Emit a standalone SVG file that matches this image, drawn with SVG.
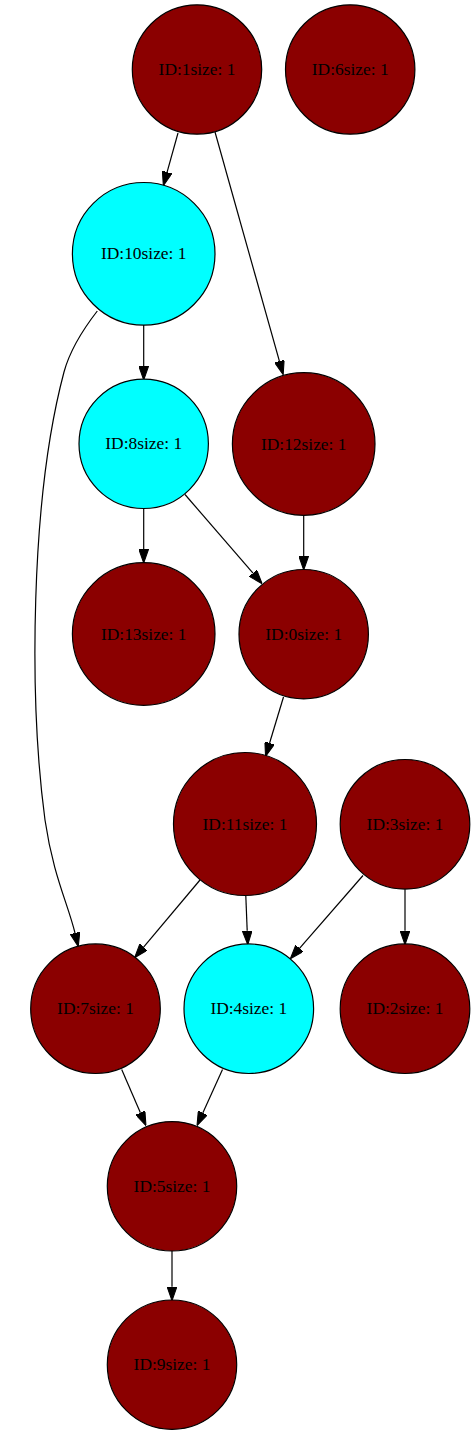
<svg xmlns="http://www.w3.org/2000/svg" width="475" height="1434" viewBox="0 0 475 1434">
<style>
.red{fill:#8b0000;stroke:#000;stroke-width:1.2}
.cyan{fill:#00ffff;stroke:#000;stroke-width:1.2}
text{font-family:"Liberation Serif","Times New Roman",serif;font-size:17.4px;text-anchor:middle;fill:#000}
.edge{fill:none;stroke:#000;stroke-width:1.2;marker-end:url(#arr)}
</style>
<defs>
<marker id="arr" markerUnits="userSpaceOnUse" markerWidth="14" markerHeight="10" viewBox="0 0 13.3 9.34" refX="0" refY="4.67" orient="auto">
<path d="M0,0 L13.3,4.67 L0,9.34 Z" fill="#000" stroke="#000" stroke-width="1"/>
</marker>
</defs>
<rect width="475" height="1434" fill="#fff"/>
<g id="edges">
<path class="edge" d="M178,133 L167.1,172.2"/>
<path class="edge" d="M215,132 L279.4,361.2"/>
<path class="edge" d="M143.7,325 L143.7,366"/>
<path class="edge" d="M97.3,311 C81,332 70,350 64,372 C30,500 29,700 45,820 C53,875 68,904 75,933"/>
<path class="edge" d="M143.7,508.3 L143.7,549"/>
<path class="edge" d="M185,494.5 L253,573.2"/>
<path class="edge" d="M303.7,515.3 L303.7,556"/>
<path class="edge" d="M283.5,697 L269.6,743"/>
<path class="edge" d="M200,880 L143.6,947.1"/>
<path class="edge" d="M245.8,895.7 L247.2,930.7"/>
<path class="edge" d="M363,875.5 L299.5,948.3"/>
<path class="edge" d="M405,889.3 L405,930.7"/>
<path class="edge" d="M121.7,1069.5 L140.4,1112.8"/>
<path class="edge" d="M222.5,1069.5 L202.8,1112.9"/>
<path class="edge" d="M172,1251 L172,1286.7"/>
</g>
<g id="node1"><circle class="red" cx="197" cy="69.5" r="64.7"/><text x="197" y="75">ID:1size: 1</text></g>
<g id="node6"><circle class="red" cx="350.2" cy="69.5" r="64.7"/><text x="350.2" y="75">ID:6size: 1</text></g>
<g id="node10"><circle class="cyan" cx="143.7" cy="253.8" r="71.3"/><text x="143.7" y="259.3">ID:10size: 1</text></g>
<g id="node8"><circle class="cyan" cx="143.7" cy="443.8" r="64.7"/><text x="143.7" y="449.3">ID:8size: 1</text></g>
<g id="node12"><circle class="red" cx="303.7" cy="444" r="71.3"/><text x="303.7" y="449.5">ID:12size: 1</text></g>
<g id="node13"><circle class="red" cx="143.7" cy="634" r="71.3"/><text x="143.7" y="639.5">ID:13size: 1</text></g>
<g id="node0"><circle class="red" cx="303.7" cy="634.2" r="64.7"/><text x="303.7" y="639.7">ID:0size: 1</text></g>
<g id="node11"><circle class="red" cx="245" cy="824" r="71.5"/><text x="245" y="829.5">ID:11size: 1</text></g>
<g id="node3"><circle class="red" cx="405" cy="824.3" r="64.8"/><text x="405" y="829.8">ID:3size: 1</text></g>
<g id="node7"><circle class="red" cx="95.5" cy="1008.7" r="64.8"/><text x="95.5" y="1014.2">ID:7size: 1</text></g>
<g id="node4"><circle class="cyan" cx="248.8" cy="1008.7" r="64.8"/><text x="248.8" y="1014.2">ID:4size: 1</text></g>
<g id="node2"><circle class="red" cx="405" cy="1008.7" r="64.8"/><text x="405" y="1014.2">ID:2size: 1</text></g>
<g id="node5"><circle class="red" cx="172" cy="1186.3" r="64.7"/><text x="172" y="1191.8">ID:5size: 1</text></g>
<g id="node9"><circle class="red" cx="172" cy="1364.7" r="64.7"/><text x="172" y="1370.2">ID:9size: 1</text></g>
</svg>
